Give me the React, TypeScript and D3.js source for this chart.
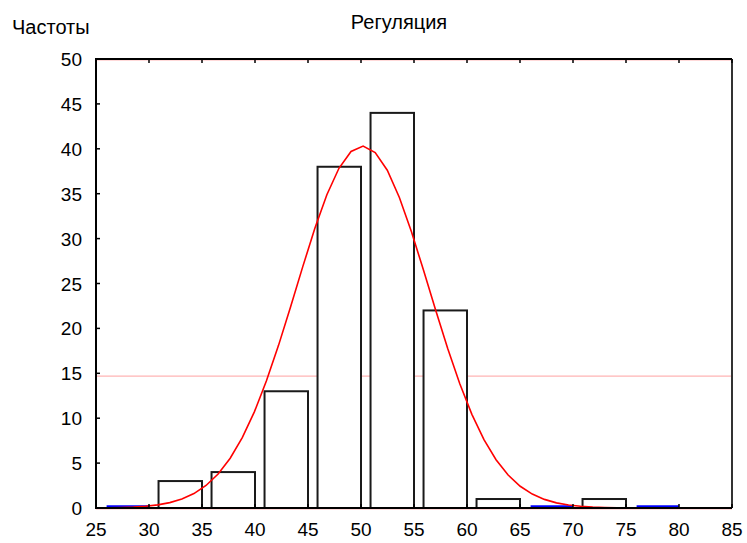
import React, { useEffect, useRef } from 'react';
import * as d3 from 'd3';

// histogram bins (lower edge), width 5
const binStarts = [25, 30, 35, 40, 45, 50, 55, 60, 65, 70, 75];
const counts = [0, 3, 4, 13, 38, 44, 22, 1, 0, 1, 0];
const xTicks = [25, 30, 35, 40, 45, 50, 55, 60, 65, 70, 75, 80, 85];
const yTicks = [0, 5, 10, 15, 20, 25, 30, 35, 40, 45, 50];
const refLines = [0, 14.8, 50];

// fitted normal curve
const curveX = [
  26.26, 27.4, 28.54, 29.68, 30.82, 31.96, 33.1, 34.24, 35.38, 36.52, 37.66, 38.8,
  39.94, 41.08, 42.22, 43.36, 44.5, 45.64, 46.78, 47.92, 49.06, 50.2, 51.34, 52.48,
  53.62, 54.76, 55.9, 57.04, 58.18, 59.32, 60.46, 61.6, 62.74, 63.88, 65.02, 66.16,
  67.3, 68.44, 69.58, 70.72, 71.86, 73.0, 74.14, 75.28, 76.42, 77.56, 78.7, 79.84,
  80.98, 82.12,
];
const curveY = [
  0.03, 0.06, 0.11, 0.2, 0.35, 0.6, 1.0, 1.61, 2.51, 3.79, 5.54, 7.83,
  10.7, 14.16, 18.11, 22.42, 26.85, 31.12, 34.88, 37.83, 39.7, 40.3, 39.58, 37.61,
  34.58, 30.76, 26.47, 22.04, 17.75, 13.83, 10.43, 7.61, 5.37, 3.67, 2.42, 1.55,
  0.96, 0.57, 0.33, 0.19, 0.1, 0.05, 0.02, 0.01, 0, 0, 0, 0,
  0, 0,
];

const W = 747;
const H = 543;
const FONT = "'Liberation Sans', Arial, sans-serif";

export default function App() {
  const svgRef = useRef<SVGSVGElement>(null);

  useEffect(() => {
    const svg = d3.select(svgRef.current);
    svg.selectAll('*').remove();

    const x = d3.scaleLinear().domain([25, 85]).range([96, 732]);
    const y = d3.scaleLinear().domain([0, 50]).range([508, 59]);

    svg.append('rect').attr('width', W).attr('height', H).attr('fill', '#fff');

    // pink reference lines
    svg
      .selectAll('.ref')
      .data(refLines)
      .enter()
      .append('line')
      .attr('x1', x(25))
      .attr('x2', x(85))
      .attr('y1', d => y(d) + 1)
      .attr('y2', d => y(d) + 1)
      .attr('stroke', '#ffb4b4')
      .attr('stroke-width', 1.2);

    // bars
    const bins = binStarts.map((lo, i) => ({ lo, hi: lo + 5, n: counts[i] }));
    svg
      .selectAll('.bar')
      .data(bins.filter(b => b.n > 0))
      .enter()
      .append('rect')
      .attr('x', d => x(d.lo + 0.9))
      .attr('y', d => y(d.n))
      .attr('width', d => x(d.hi) - x(d.lo + 0.9))
      .attr('height', d => y(0) - y(d.n))
      .attr('fill', '#fff')
      .attr('stroke', '#1a1a1a')
      .attr('stroke-width', 2);

    // empty bins drawn as blue lines
    svg
      .selectAll('.empty')
      .data(bins.filter(b => b.n === 0))
      .enter()
      .append('line')
      .attr('x1', d => x(d.lo + 1))
      .attr('x2', d => x(d.hi))
      .attr('y1', y(0) - 1.5)
      .attr('y2', y(0) - 1.5)
      .attr('stroke', '#0000ff')
      .attr('stroke-width', 2.5);

    // normal curve
    const line = d3
      .line<number>()
      .x((d, i) => x(curveX[i]))
      .y(d => y(d));
    svg
      .append('path')
      .datum(curveY)
      .attr('d', line)
      .attr('fill', 'none')
      .attr('stroke', '#ff0000')
      .attr('stroke-width', 1.6);

    // frame
    svg.append('line').attr('x1', x(25)).attr('x2', x(85)).attr('y1', y(50)).attr('y2', y(50))
      .attr('stroke', '#000').attr('stroke-width', 2);
    svg.append('line').attr('x1', x(85)).attr('x2', x(85)).attr('y1', y(50)).attr('y2', y(0))
      .attr('stroke', '#333').attr('stroke-width', 2);
    svg.append('line').attr('x1', x(25)).attr('x2', x(25)).attr('y1', y(50) - 1).attr('y2', y(0) + 1)
      .attr('stroke', '#000').attr('stroke-width', 2);
    svg.append('line').attr('x1', x(25)).attr('x2', x(85)).attr('y1', y(0)).attr('y2', y(0))
      .attr('stroke', '#000').attr('stroke-width', 2);

    // ticks (inside)
    svg
      .selectAll('.xt')
      .data(xTicks)
      .enter()
      .append('line')
      .attr('x1', d => x(d))
      .attr('x2', d => x(d))
      .attr('y1', y(0))
      .attr('y2', y(0) - 4)
      .attr('stroke', '#000')
      .attr('stroke-width', 1.5);
    svg
      .selectAll('.xt2')
      .data(xTicks)
      .enter()
      .append('line')
      .attr('x1', d => x(d))
      .attr('x2', d => x(d))
      .attr('y1', y(50))
      .attr('y2', y(50) + 4)
      .attr('stroke', '#000')
      .attr('stroke-width', 1.5);
    svg
      .selectAll('.yt')
      .data(yTicks)
      .enter()
      .append('line')
      .attr('x1', x(25))
      .attr('x2', x(25) + 4)
      .attr('y1', d => y(d))
      .attr('y2', d => y(d))
      .attr('stroke', '#000')
      .attr('stroke-width', 1.5);

    // tick labels
    svg
      .selectAll('.xl')
      .data(xTicks)
      .enter()
      .append('text')
      .attr('x', d => x(d))
      .attr('y', 536)
      .attr('text-anchor', 'middle')
      .style('font-family', FONT)
      .style('font-size', '19px')
      .text(d => d);
    svg
      .selectAll('.yl')
      .data(yTicks)
      .enter()
      .append('text')
      .attr('x', 82)
      .attr('y', d => y(d) + 7)
      .attr('text-anchor', 'end')
      .style('font-family', FONT)
      .style('font-size', '19px')
      .text(d => d);

    // titles
    svg.append('text').attr('x', 399).attr('y', 29).attr('text-anchor', 'middle')
      .style('font-family', FONT).style('font-size', '20px').text('Регуляция');
    svg.append('text').attr('x', 12).attr('y', 34)
      .style('font-family', FONT).style('font-size', '20px').text('Частоты');
  }, []);

  return (
    <svg
      ref={svgRef}
      width={W}
      height={H}
      style={{ position: 'absolute', left: 0, top: 0 }}
    ></svg>
  );
}
